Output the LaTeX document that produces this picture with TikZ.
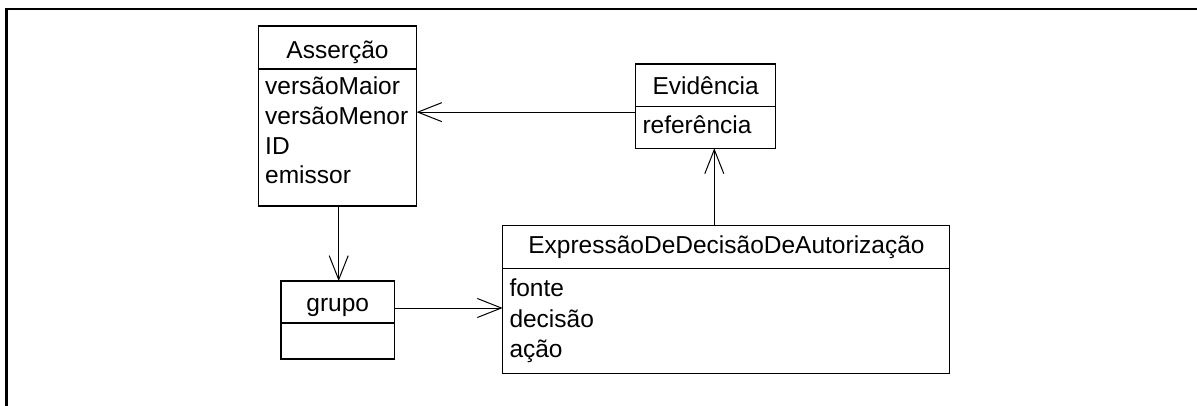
\documentclass[tikz,border=0pt]{standalone}
\usepackage{fontspec}
\setmainfont{Liberation Sans}
\usetikzlibrary{arrows.meta}
\begin{document}
\begin{tikzpicture}[x=1pt,y=-1pt,
  umlbox/.style={draw=black, line width=1.1pt, anchor=north west, inner sep=0pt, outer sep=0pt},
  divider/.style={draw=black, line width=1.1pt},
  title/.style={font=\fontsize{24.5}{29}\selectfont, anchor=base, inner sep=0pt},
  attr/.style={font=\fontsize{24.5}{29}\selectfont, anchor=base west, inner sep=0pt},
  assoc/.style={draw=black, line width=1pt, -{Straight Barb[length=24pt,width=19pt,line width=1pt]}},
]
\useasboundingbox (0,0) rectangle (1197,406);
% frame edges
\draw[line width=2.6pt] (6.7,406) -- (6.7,9) -- (1197,9);

% class Asserção
\node[umlbox, minimum width=158pt, minimum height=180pt] (ass) at (258.5,26) {};
\draw[divider] ([yshift=-43pt]ass.north west) -- ([yshift=-43pt]ass.north east);
\node[title] (ass-t) at (337.5,58.3) {Asserção};
\node[attr] (ass-a1) at (265,95) {versãoMaior};
\node[attr] (ass-a2) at (265,124.6) {versãoMenor};
\node[attr] (ass-a3) at (265,154.3) {ID};
\node[attr] (ass-a4) at (265,184) {emissor};

% class Evidência
\node[umlbox, minimum width=140pt, minimum height=84.3pt] (evi) at (635.7,64) {};
\draw[divider] ([yshift=-42.7pt]evi.north west) -- ([yshift=-42.7pt]evi.north east);
\node[title] (evi-t) at (705.7,95) {Evidência};
\node[attr] (evi-a1) at (642.3,133.3) {referência};

% class grupo
\node[umlbox, minimum width=113.5pt, minimum height=78pt] (grp) at (281,281) {};
\draw[divider] ([yshift=-42pt]grp.north west) -- ([yshift=-42pt]grp.north east);
\node[title] (grp-t) at (337.75,311.7) {grupo};

% class ExpressãoDeDecisãoDeAutorização
\node[umlbox, minimum width=446.6pt, minimum height=147.6pt] (exp) at (502.7,225.7) {};
\draw[divider] ([yshift=-42.6pt]exp.north west) -- ([yshift=-42.6pt]exp.north east);
\node[title] (exp-t) at (726.5,254) {ExpressãoDeDecisãoDeAutorização};
\node[attr] (exp-a1) at (509.3,296.7) {fonte};
\node[attr] (exp-a2) at (509.3,327.7) {decisão};
\node[attr] (exp-a3) at (509.3,357.3) {ação};

% associations
\coordinate (e1) at ([yshift=-6pt]evi.west);
\draw[assoc] (e1) -- (e1 -| ass.east);
\draw[assoc] ([xshift=1.2pt]ass.south) -- ([xshift=1.2pt]ass.south |- grp.north);
\coordinate (g1) at ([yshift=12pt]grp.east);
\draw[assoc] (g1) -- (g1 -| exp.west);
\coordinate (x1) at ([xshift=8.6pt]evi.south);
\draw[assoc] (x1 |- exp.north) -- (x1);
\end{tikzpicture}
\end{document}
